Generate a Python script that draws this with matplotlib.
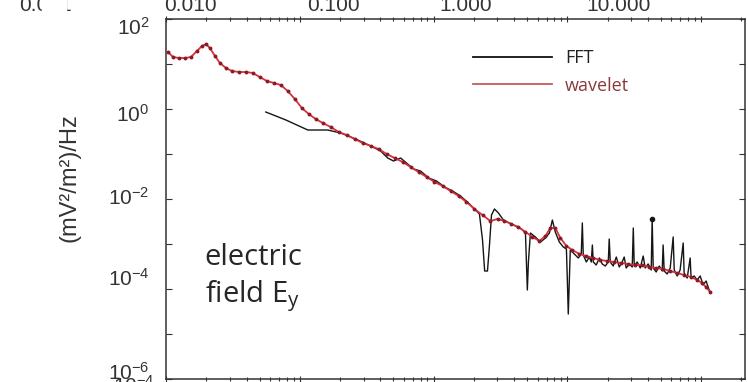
import numpy as np
import matplotlib
matplotlib.use("Agg")
import matplotlib.pyplot as plt
from matplotlib.lines import Line2D
from matplotlib.patches import Rectangle
from matplotlib.ticker import FixedLocator, FuncFormatter, NullFormatter
from matplotlib.transforms import ScaledTranslation

plt.rcParams['font.family'] = 'Liberation Sans'
plt.rcParams['mathtext.default'] = 'regular'

# wavelet spectrum: log10(frequency / Hz) and log10(PSD / (mV^2/m^2)/Hz)
wav_logf = [-3.985, -3.948, -3.903, -3.858, -3.813, -3.769, -3.731, -3.701, -3.672, -3.634,
            -3.597, -3.552, -3.507, -3.455, -3.403, -3.351, -3.299, -3.246, -3.194, -3.142,
            -3.090, -3.037, -2.985, -2.933, -2.881, -2.828, -2.769, -2.709, -2.649, -2.590,
            -2.530, -2.470, -2.410, -2.351, -2.291, -2.231, -2.172, -2.112, -2.052, -1.993,
            -1.933, -1.873, -1.813, -1.754, -1.694, -1.634, -1.575, -1.522, -1.470, -1.418,
            -1.366, -1.313, -1.261, -1.209, -1.164, -1.127, -1.090, -1.052, -1.007, -0.963,
            -0.910, -0.858, -0.806, -0.754, -0.701, -0.649, -0.597, -0.545, -0.493, -0.440,
            -0.388, -0.336, -0.284, -0.231, -0.179, -0.127, -0.075, -0.030, 0.007, 0.037,
            0.067]
wav_logp = [1.267, 1.156, 1.133, 1.133, 1.156, 1.289, 1.400, 1.444, 1.356, 1.178,
            1.022, 0.911, 0.844, 0.822, 0.822, 0.800, 0.711, 0.622, 0.578, 0.533,
            0.400, 0.222, 0.022, -0.111, -0.222, -0.311, -0.400, -0.511, -0.578, -0.667,
            -0.756, -0.822, -0.889, -1.000, -1.089, -1.178, -1.289, -1.400, -1.511, -1.622,
            -1.711, -1.822, -1.933, -2.067, -2.222, -2.356, -2.489, -2.444, -2.489, -2.556,
            -2.622, -2.733, -2.844, -2.933, -2.822, -2.644, -2.644, -2.867, -3.044, -3.133,
            -3.222, -3.267, -3.311, -3.356, -3.378, -3.400, -3.422, -3.444, -3.467, -3.467,
            -3.511, -3.533, -3.556, -3.600, -3.644, -3.689, -3.733, -3.800, -3.867, -3.956,
            -4.067]

# FFT spectrum, same units
fft_logf = [-3.254, -3.104, -2.940, -2.791, -2.694, -2.582, -2.470, -2.396, -2.343, -2.299,
            -2.246, -2.194, -2.149, -2.097, -2.037, -1.978, -1.918, -1.858, -1.799, -1.739,
            -1.687, -1.657, -1.634, -1.618, -1.597, -1.582, -1.567, -1.545, -1.515, -1.478,
            -1.433, -1.388, -1.343, -1.313, -1.306, -1.299, -1.291, -1.276, -1.239, -1.201,
            -1.164, -1.134, -1.112, -1.090, -1.060, -1.030, -1.007, -1.000, -0.993, -0.985,
            -0.978, -0.948, -0.918, -0.896, -0.888, -0.881, -0.858, -0.836, -0.821, -0.813,
            -0.806, -0.784, -0.761, -0.739, -0.716, -0.694, -0.687, -0.679, -0.657, -0.634,
            -0.612, -0.590, -0.575, -0.560, -0.537, -0.515, -0.507, -0.500, -0.478, -0.455,
            -0.433, -0.418, -0.396, -0.373, -0.366, -0.358, -0.336, -0.313, -0.291, -0.284,
            -0.276, -0.254, -0.231, -0.209, -0.201, -0.179, -0.157, -0.134, -0.127, -0.104,
            -0.082, -0.075, -0.052, -0.030, -0.007, 0.015, 0.037, 0.060, 0.075]
fft_logp = [-0.067, -0.244, -0.467, -0.467, -0.533, -0.667, -0.822, -0.933, -1.089, -1.156,
            -1.089, -1.222, -1.333, -1.378, -1.533, -1.600, -1.733, -1.822, -1.933, -2.089,
            -2.244, -2.333, -2.911, -3.600, -3.600, -3.022, -2.356, -2.222, -2.311, -2.467,
            -2.533, -2.600, -2.667, -2.756, -3.400, -4.022, -3.400, -2.756, -2.844, -2.956,
            -2.867, -2.756, -2.467, -2.733, -2.956, -3.067, -3.111, -3.800, -4.556, -3.800,
            -3.133, -3.222, -3.311, -3.222, -2.533, -3.244, -3.400, -3.289, -3.400, -3.022,
            -3.400, -3.467, -3.311, -3.444, -3.489, -3.400, -2.889, -3.400, -3.489, -3.289,
            -3.511, -3.400, -3.289, -3.533, -3.444, -3.511, -2.644, -3.489, -3.400, -3.533,
            -3.267, -3.533, -3.444, -3.578, -2.444, -3.533, -3.622, -3.489, -3.600, -3.022,
            -3.600, -3.667, -3.533, -2.844, -3.578, -3.711, -3.578, -2.978, -3.644, -3.756,
            -3.311, -3.756, -3.711, -3.800, -3.711, -3.911, -3.822, -4.022, -4.089]

# cut-off tick labels of the panel above
top_labels = ['0.001', '0.010', '0.100', '1.000', '10.000']

wav_f = 10 ** np.array(wav_logf)
wav_p = 10 ** np.array(wav_logp)
fft_f = 10 ** np.array(fft_logf)
fft_p = 10 ** np.array(fft_logp)

fig = plt.figure(figsize=(7.48, 3.82), dpi=100)
ax = fig.add_axes([166 / 748, 3 / 382, 579 / 748, 360 / 382])

# highest narrow line in the high-frequency part carries a dot
hi = np.where(np.array(fft_logf) > -0.5)[0]
peak = int(hi[np.argmax(np.array(fft_logp)[hi])])

ax.plot(fft_f, fft_p, color='#151515', lw=1.0, zorder=3,
        marker='o', ms=3, markevery=[peak])
ax.plot(wav_f, wav_p, color='#d83236', lw=1.3, zorder=4,
        marker='o', ms=2.8, mfc='#8a1a2a', mec='none')

ax.set_xscale('log')
ax.set_yscale('log')
ax.set_xlim(1e-4, 10 ** 0.328)
ax.set_ylim(1e-6, 1e2)

ax.yaxis.set_major_locator(FixedLocator([10.0 ** k for k in range(-6, 3)]))
ax.yaxis.set_minor_locator(FixedLocator([]))
ax.yaxis.set_major_formatter(FuncFormatter(
    lambda v, pos: '$10^{%d}$' % round(np.log10(v)) if round(np.log10(v)) % 2 == 0 else ''))
ax.xaxis.set_major_formatter(NullFormatter())
ax.xaxis.set_minor_formatter(NullFormatter())

ax.tick_params(axis='y', which='major', labelsize=15, direction='in', length=4, pad=12,
               right=True, width=0.8, colors='#333333', labelcolor='#333333')
ax.tick_params(axis='x', which='both', direction='inout', top=True, width=0.8, colors='#333333')
ax.tick_params(axis='x', which='major', length=5)
ax.tick_params(axis='x', which='minor', length=3)
for s in ax.spines.values():
    s.set_linewidth(1.1)
    s.set_color('#333333')

# the scanned labels sit a little off their ticks
fig.canvas.draw()
label_shift = {2: -7, 0: -4, -2: 3, -4: 12, -6: 8}
for tick in ax.yaxis.get_major_ticks():
    k = int(round(np.log10(tick.get_loc())))
    if k in label_shift:
        tick.label1.set_transform(tick.label1.get_transform() +
                                  ScaledTranslation(0, label_shift[k] / 100, fig.dpi_scale_trans))

ax.set_ylabel('(mV²/m²)/Hz', fontsize=17, color='#333333')
ax.yaxis.set_label_coords(-0.148, 0.558)

ax.text(0.067, 0.317, 'electric', transform=ax.transAxes, fontsize=21,
        family='Open Sans', color='#262626', va='baseline')
ax.text(0.067, 0.214, 'field E$_y$', transform=ax.transAxes, fontsize=21,
        family='Open Sans', color='#262626', va='baseline')

handles = [Line2D([], [], color='#111111', lw=1.3),
           Line2D([], [], color='#c65a5a', lw=1.3)]
leg = ax.legend(handles, ['FFT', 'wavelet'], loc='upper left',
                bbox_to_anchor=(0.530, 0.917), frameon=False, borderpad=0,
                borderaxespad=0, handlelength=4.4, handletextpad=0.7,
                labelspacing=0.55, prop={'family': 'Open Sans', 'size': 13})
leg.get_texts()[0].set_color('#222222')
leg.get_texts()[1].set_color('#8b3a3a')

# remains of the neighbouring panels cut by the crop
for lab, xc in zip(top_labels, [45, 190, 333, 466, 619]):
    fig.text(xc / 748, 1 - 11 / 382, lab, ha='center', va='baseline',
             fontsize=15, color='#333333')
fig.add_artist(Rectangle((42 / 748, 1 - 16 / 382), 24 / 748, 16 / 382,
                         transform=fig.transFigure, color='white', zorder=5))
fig.text(113 / 748, 1 - 375 / 382, '$10^{-4}$', ha='left', va='top',
         fontsize=15, color='#333333')

fig.savefig('out.png', dpi=100)
